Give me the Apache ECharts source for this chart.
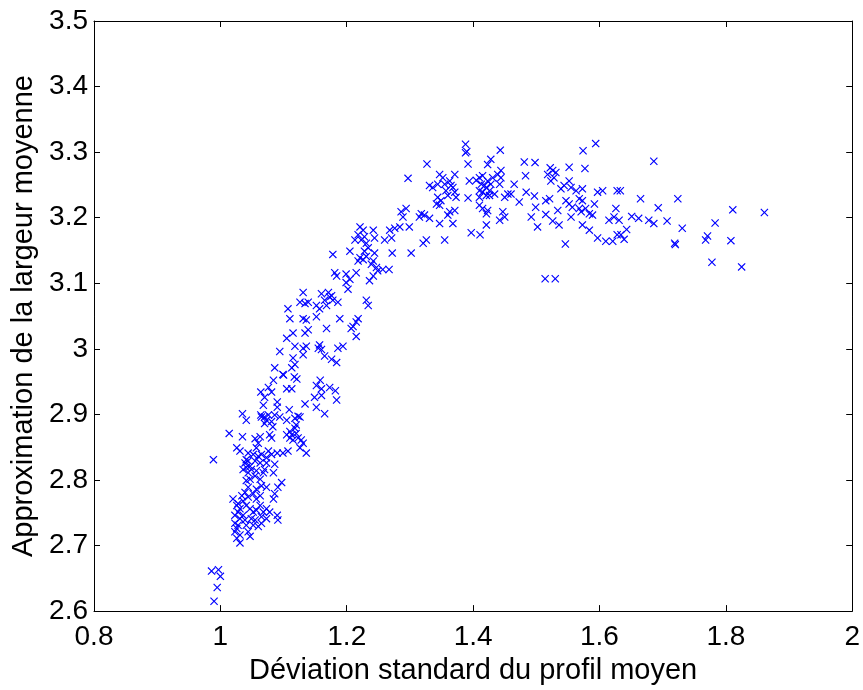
<!DOCTYPE html>
<html><head><meta charset="utf-8">
<script src="https://cdn.jsdelivr.net/npm/echarts@6/dist/echarts.min.js"></script>
<style>html,body{margin:0;padding:0;background:#fff}#chart{width:863px;height:690px}</style>
</head><body><div id="chart"></div>
<script>
// Axis ranges / ticks
const xMin = 0.8, xMax = 2, xStep = 0.2;
const yMin = 2.6, yMax = 3.5, yStep = 0.1;
const xTitle = 'Déviation standard du profil moyen';
const yTitle = 'Approximation de la largeur moyenne';

// Points [deviation, approximation], read off the reference by region
const lowCluster = [
[0.986,2.661],[0.997,2.663],[1.000,2.653],[0.995,2.636],[0.990,2.615],[0.989,2.831],
[1.084,2.952],[1.100,2.960],[1.117,2.957],[1.121,2.954],[1.158,2.952],[1.152,2.944],[1.160,2.939],[1.173,2.941],[1.182,2.936],
[1.064,2.934],[1.076,2.941],[1.081,2.934],[1.105,2.939],[1.113,2.939],[1.160,2.929],[1.149,2.926],[1.152,2.911],[1.165,2.901],[1.184,2.922],[1.134,2.916],[1.070,2.926],[1.090,2.919],
[1.068,2.914],[1.090,2.911],[1.109,2.907],[1.123,2.897],[1.035,2.901],[1.041,2.891],[1.064,2.899],[1.070,2.896],[1.076,2.899],[1.086,2.899],[1.094,2.896],[1.105,2.891],[1.081,2.889],[1.118,2.894],[1.126,2.896],[1.070,2.886],[1.083,2.881],
[1.014,2.871],[1.035,2.866],[1.055,2.863],[1.063,2.866],[1.060,2.856],[1.026,2.849],[1.031,2.844],[1.044,2.841],[1.057,2.849],[1.078,2.869],[1.081,2.864],[1.105,2.869],[1.110,2.874],[1.118,2.879],[1.120,2.884],[1.115,2.861],[1.123,2.864],[1.131,2.856],[1.136,2.841],[1.126,2.849],[1.107,2.844],[1.099,2.841],[1.090,2.841],[1.081,2.839],[1.076,2.844],[1.065,2.839],[1.052,2.839],[1.041,2.831],
[1.039,2.826],[1.044,2.829],[1.055,2.829],[1.063,2.826],[1.073,2.826],[1.086,2.824],[1.084,2.811],[1.036,2.816],[1.041,2.819],[1.049,2.816],[1.057,2.814],[1.070,2.816],[1.041,2.799],[1.047,2.801],[1.063,2.801],[1.065,2.791],[1.044,2.789],[1.057,2.786],[1.073,2.789],[1.097,2.796],[1.091,2.789],
[1.020,2.771],[1.034,2.776],[1.039,2.781],[1.052,2.779],[1.063,2.776],[1.084,2.771],[1.086,2.779],[1.026,2.761],[1.031,2.756],[1.041,2.761],[1.047,2.756],[1.057,2.754],[1.063,2.761],[1.073,2.756],[1.078,2.751],[1.090,2.746],[1.091,2.739],[1.023,2.746],[1.036,2.746],[1.049,2.741],[1.055,2.739],[1.065,2.744],[1.073,2.741],
[1.023,2.734],[1.028,2.731],[1.041,2.731],[1.052,2.731],[1.060,2.729],[1.065,2.734],[1.023,2.721],[1.031,2.716],[1.044,2.721],[1.047,2.714],[1.031,2.704],[1.026,2.711],
[1.028,2.751],[1.036,2.768],[1.044,2.774],[1.031,2.741],[1.039,2.739],[1.026,2.726],[1.057,2.771],[1.068,2.751],[1.052,2.751],[1.028,2.764],[1.044,2.811],[1.055,2.806],[1.068,2.811],[1.047,2.821],[1.060,2.836],[1.073,2.834],[1.065,2.896],[1.073,2.891],[1.110,2.864],[1.113,2.869],[1.128,2.861],[1.120,2.871]
];
const midCluster = [
[1.221,3.186],[1.226,3.181],[1.218,3.174],[1.228,3.171],[1.223,3.166],[1.242,3.181],[1.244,3.169],[1.213,3.166],[1.231,3.161],[1.205,3.149],[1.178,3.144],[1.234,3.154],[1.228,3.149],[1.221,3.139],[1.226,3.136],[1.218,3.134],[1.231,3.141],[1.242,3.134],[1.244,3.146],[1.239,3.129],[1.247,3.124],[1.249,3.119],[1.236,3.104],[1.242,3.111],[1.215,3.116],[1.199,3.114],[1.205,3.106],[1.181,3.116],[1.184,3.111],[1.199,3.101],
[1.131,3.086],[1.202,3.091],[1.160,3.084],[1.171,3.086],[1.173,3.079],[1.165,3.074],[1.178,3.074],[1.186,3.071],[1.152,3.066],[1.157,3.061],[1.126,3.071],[1.134,3.069],[1.139,3.071],[1.231,3.074],[1.234,3.066],[1.107,3.061],[1.110,3.046],[1.131,3.046],[1.136,3.044],[1.152,3.049],[1.189,3.046],[1.210,3.034],[1.215,3.041],[1.218,3.046],[1.207,3.031],[1.215,3.019],
[1.168,3.031],[1.139,3.029],[1.134,3.024],[1.115,3.024],[1.105,3.016],[1.118,3.004],[1.131,3.001],[1.136,3.004],[1.094,2.996],[1.157,3.006],[1.160,2.999],[1.165,2.989],[1.176,2.984],[1.184,2.979],[1.186,3.001],[1.194,3.004],[1.115,2.986],[1.131,2.991],[1.113,2.971],[1.118,2.976],[1.086,2.971],[1.099,2.961],[1.155,3.001],[1.168,3.066],[1.176,3.081]
];
const upperCluster = [
[1.388,3.312],[1.388,3.299],[1.390,3.301],[1.392,3.282],[1.327,3.282],[1.297,3.260],[1.443,3.303],[1.428,3.289],[1.423,3.281],[1.444,3.272],[1.481,3.285],[1.498,3.284],[1.483,3.264],[1.522,3.276],[1.526,3.272],[1.518,3.266],[1.528,3.261],[1.523,3.256],[1.531,3.269],[1.552,3.277],[1.574,3.302],[1.594,3.313],[1.577,3.275],
[1.347,3.266],[1.352,3.261],[1.371,3.266],[1.331,3.249],[1.336,3.246],[1.344,3.251],[1.363,3.256],[1.365,3.249],[1.357,3.241],[1.371,3.239],[1.373,3.231],[1.360,3.234],[1.344,3.231],[1.349,3.226],[1.342,3.221],[1.347,3.219],[1.371,3.211],[1.363,3.209],[1.360,3.204],[1.368,3.191],[1.331,3.199],[1.323,3.204],[1.318,3.206],[1.326,3.166],[1.321,3.161],[1.347,3.191],[1.355,3.166],
[1.394,3.256],[1.405,3.257],[1.410,3.261],[1.415,3.264],[1.413,3.251],[1.421,3.246],[1.426,3.241],[1.415,3.239],[1.421,3.234],[1.410,3.231],[1.428,3.251],[1.431,3.261],[1.439,3.266],[1.444,3.261],[1.442,3.251],[1.434,3.236],[1.392,3.230],[1.410,3.219],[1.415,3.214],[1.423,3.211],[1.421,3.206],
[1.450,3.231],[1.455,3.236],[1.460,3.236],[1.465,3.251],[1.473,3.224],[1.484,3.239],[1.497,3.233],[1.499,3.216],[1.515,3.226],[1.521,3.229],[1.534,3.211],[1.539,3.244],[1.544,3.249],[1.552,3.256],[1.555,3.246],[1.563,3.241],[1.573,3.244],[1.547,3.226],[1.552,3.221],[1.568,3.229],[1.573,3.226],[1.578,3.214],[1.592,3.221],[1.597,3.239],[1.605,3.241],[1.626,3.214],[1.628,3.241],
[1.557,3.216],[1.571,3.209],[1.584,3.206],[1.589,3.204],[1.568,3.214],[1.555,3.201],[1.492,3.201],[1.502,3.186],[1.515,3.205],[1.526,3.195],[1.536,3.189],[1.573,3.189],[1.584,3.181],[1.597,3.169],[1.610,3.164],[1.621,3.164],[1.628,3.174],[1.615,3.196],[1.623,3.201],[1.631,3.196],[1.546,3.160],[1.514,3.107],[1.530,3.107],
[1.421,3.189],[1.447,3.209],[1.450,3.201],[1.442,3.196],[1.397,3.177],[1.411,3.174],[1.302,3.146],[1.272,3.146],[1.299,3.186],[1.284,3.186],[1.289,3.201],[1.294,3.214],[1.286,3.209],[1.268,3.181],[1.276,3.184],[1.260,3.166],[1.271,3.169],[1.257,3.121],[1.267,3.121],[1.315,3.201],
[1.418,3.249],[1.423,3.256],[1.410,3.241],[1.426,3.234],[1.355,3.251],[1.368,3.246]
];
const tailCluster = [
[1.633,3.241],[1.665,3.229],[1.686,3.286],[1.724,3.229],[1.693,3.215],[1.651,3.202],[1.662,3.199],[1.678,3.196],[1.686,3.191],[1.707,3.195],[1.731,3.184],[1.643,3.182],[1.634,3.174],[1.639,3.167],
[1.719,3.161],[1.720,3.159],[1.768,3.166],[1.771,3.172],[1.783,3.192],[1.811,3.212],[1.808,3.165],[1.861,3.208],[1.778,3.132],[1.825,3.125]
];

const points = [].concat(lowCluster, midCluster, upperCluster, tailCluster);
const FONT = '"Liberation Sans", Arial, Helvetica, sans-serif';
const TICK_FS = 28, TITLE_FS = 29;
const cross = 'path://M0,1L1,0L5,4L9,0L10,1L6,5L10,9L9,10L5,6L1,10L0,9L4,5Z';

function axisBase(extra) {
  return Object.assign({
    type: 'value',
    axisLine: { show: true, onZero: false, lineStyle: { color: '#000', width: 1 } },
    axisTick: { show: true, inside: true, length: 6, lineStyle: { color: '#000', width: 1 } },
    splitLine: { show: false },
    axisLabel: { show: false }
  }, extra);
}

const chart = echarts.init(document.getElementById('chart'), null, { renderer: 'canvas' });
chart.setOption({
  animation: false,
  backgroundColor: '#fff',
  grid: { left: 94, right: 9, top: 21, bottom: 69, containLabel: false },
  xAxis: [
    axisBase({ position: 'bottom', min: xMin, max: xMax, interval: xStep,
      axisLabel: { show: true, color: '#000', fontSize: TICK_FS, fontFamily: FONT, margin: 12 },
      name: xTitle, nameLocation: 'middle', nameGap: 41,
      nameTextStyle: { color: '#000', fontSize: TITLE_FS, fontFamily: FONT } }),
    axisBase({ position: 'top', min: xMin, max: xMax, interval: xStep })
  ],
  yAxis: [
    axisBase({ position: 'left', min: yMin, max: yMax, interval: yStep,
      axisLabel: { show: true, color: '#000', fontSize: TICK_FS, fontFamily: FONT, margin: 6 },
      name: yTitle, nameLocation: 'middle', nameGap: 56,
      nameTextStyle: { color: '#000', fontSize: TITLE_FS, fontFamily: FONT } }),
    axisBase({ position: 'right', min: yMin, max: yMax, interval: yStep })
  ],
  series: [{
    type: 'scatter',
    data: points,
    symbol: cross,
    symbolSize: 8,
    itemStyle: { color: '#0000ff', opacity: 1 },
    emphasis: { disabled: true }
  }]
});
</script></body></html>
